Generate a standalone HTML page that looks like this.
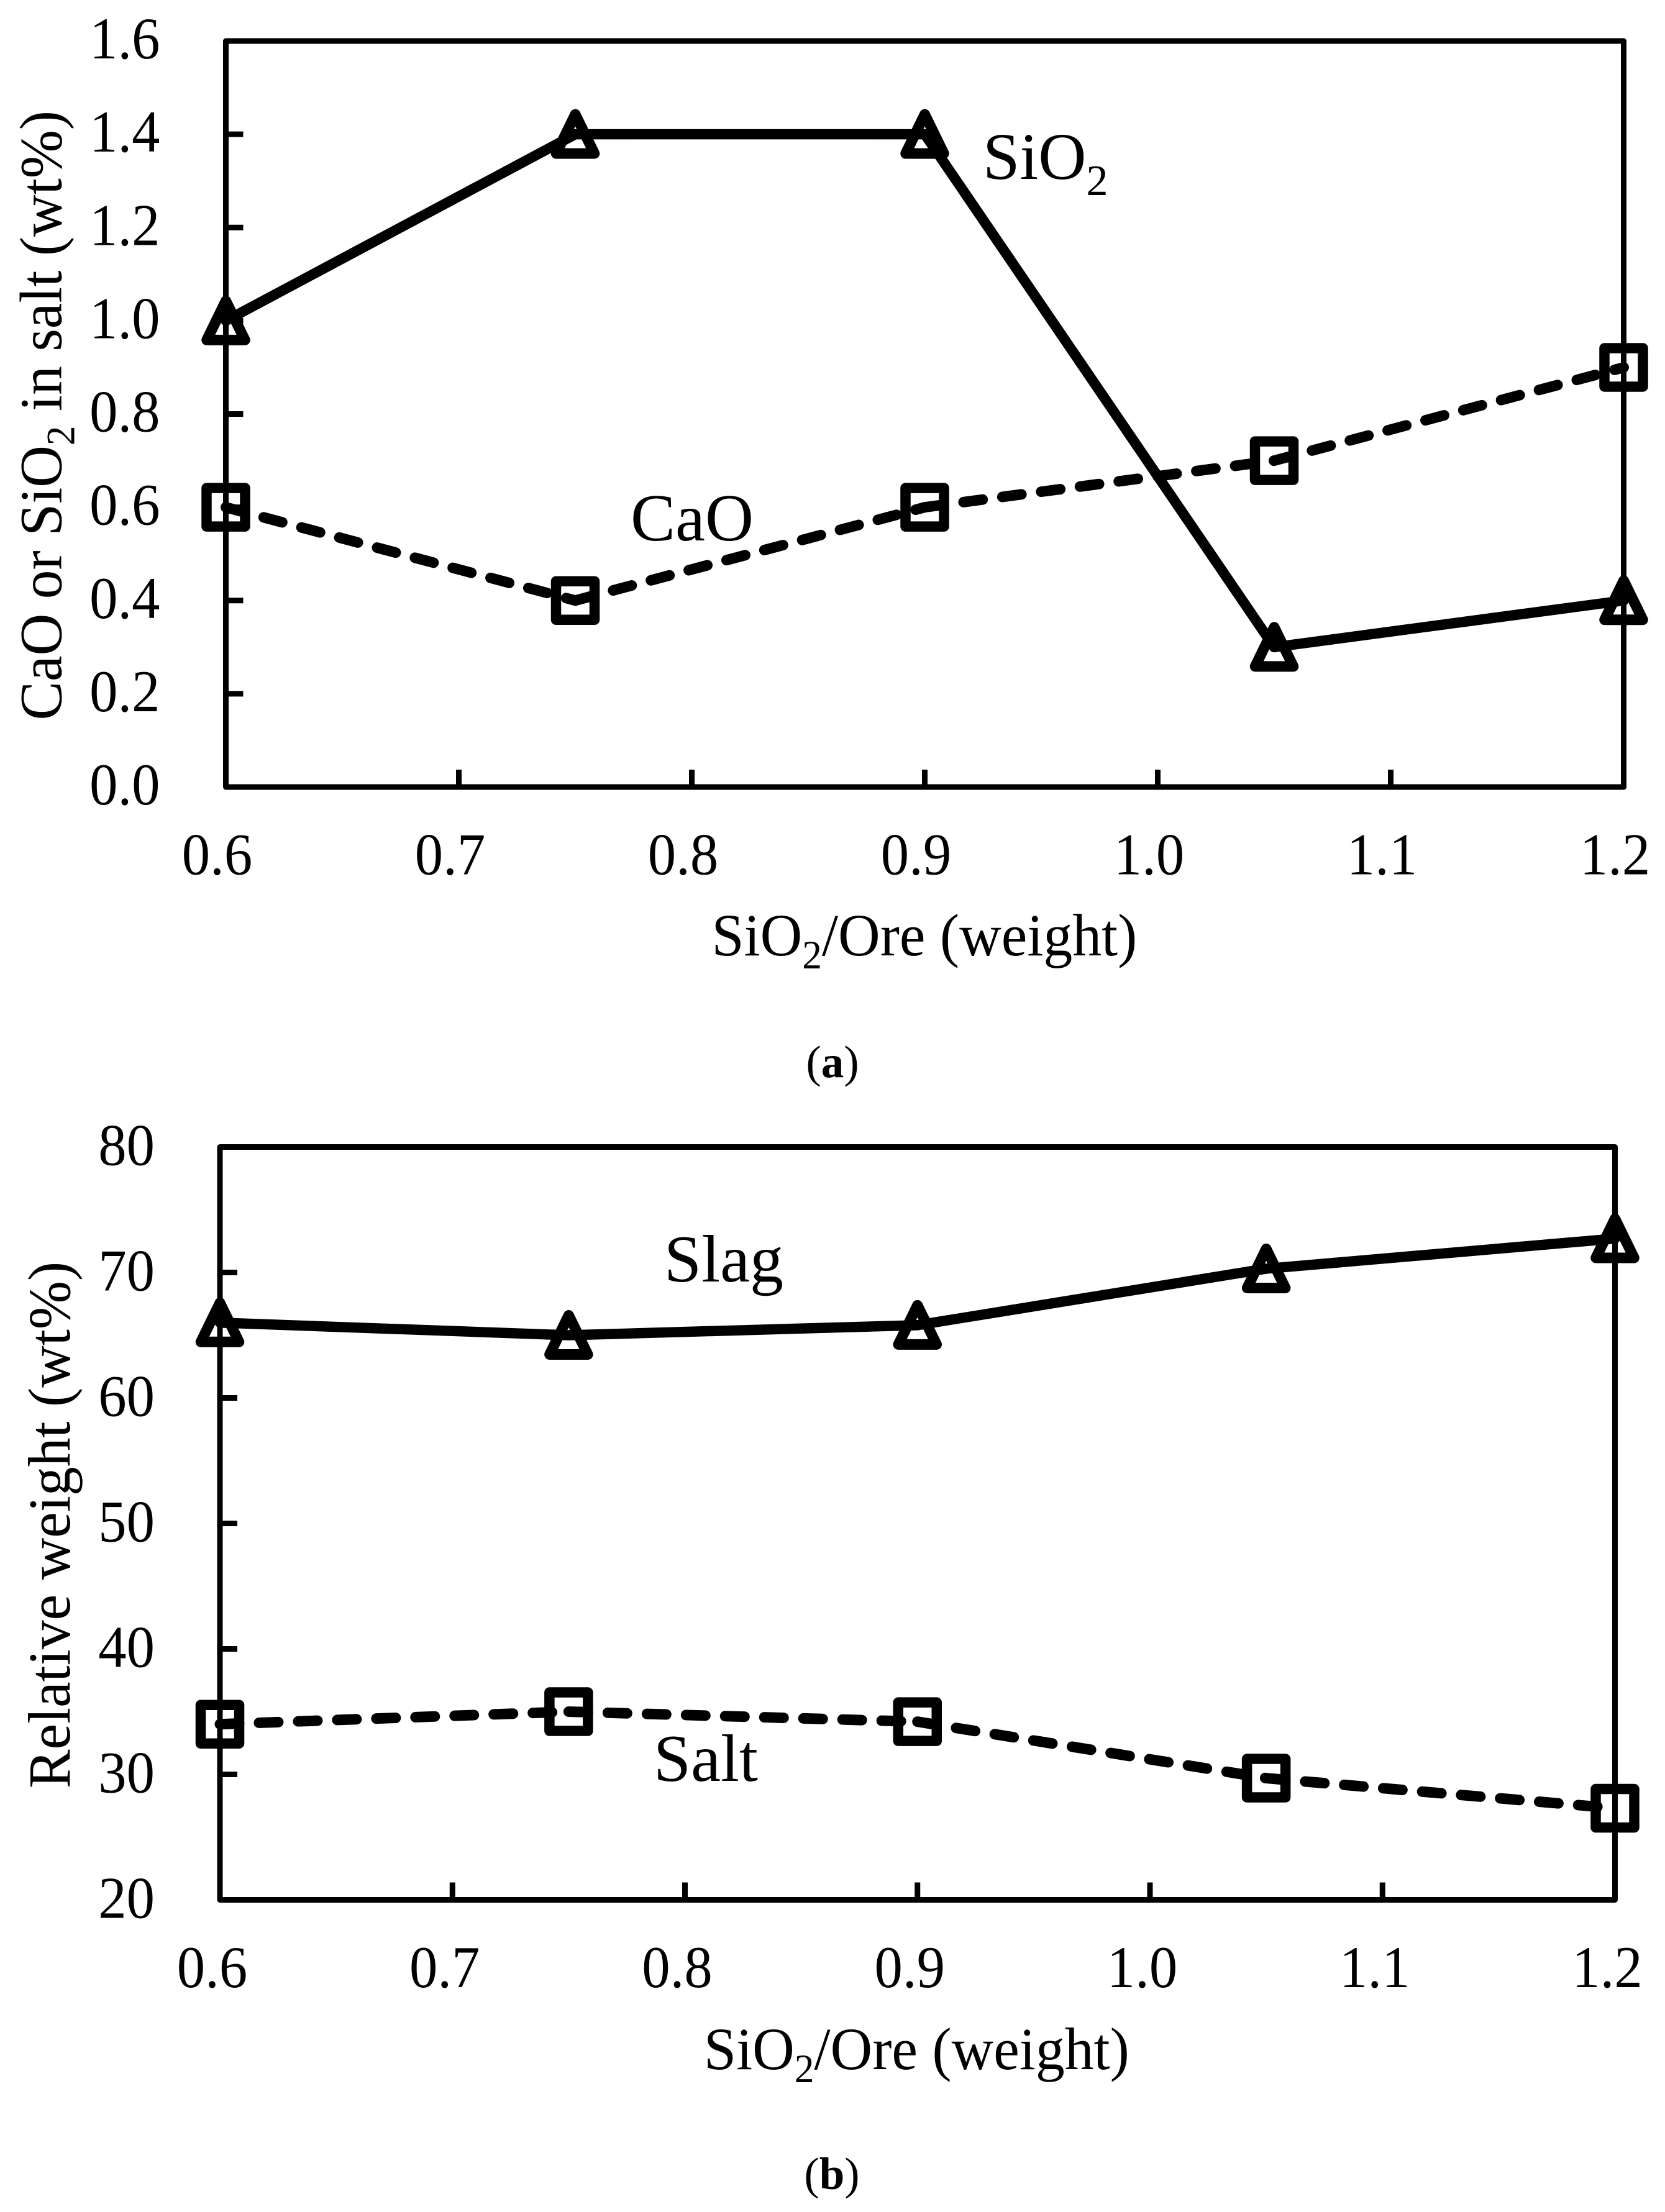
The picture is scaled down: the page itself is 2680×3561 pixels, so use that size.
<!DOCTYPE html>
<html>
<head>
<meta charset="utf-8">
<title>CaO and SiO2 in salt and relative weight vs SiO2/Ore</title>
<style>
html,body{margin:0;padding:0;background:#fff;}
svg{display:block;}
text{font-family:"Liberation Serif",serif;fill:#000;}
</style>
</head>
<body>
<svg id="figure" xmlns="http://www.w3.org/2000/svg" width="2680" height="3561" viewBox="0 0 2680 3561">
  <rect width="2680" height="3561" fill="#fff"/>
  <g id="panel-a"></g>
  <g id="panel-b"></g>

  <text transform="translate(98.5,1159.5) rotate(-90) scale(.976,1)" font-size="96">CaO or SiO<tspan font-size="65" dy="21">2</tspan><tspan dy="-21"> in salt (wt%)</tspan></text>
  <text transform="translate(1145.5,1538) scale(.976,1)" font-size="96">SiO<tspan font-size="65" dy="21">2</tspan><tspan dy="-21">/Ore (weight)</tspan></text>
  <text x="1582" y="288" font-size="107">SiO<tspan font-size="70" dy="26">2</tspan></text>
  <text x="1015" y="870" font-size="108">CaO</text>
  <text x="1340" y="1734" font-size="73" text-anchor="middle">(<tspan font-weight="bold">a</tspan>)</text>

  <text transform="translate(112,2879) rotate(-90) scale(.976,1)" font-size="96">Relative weight (wt%)</text>
  <text transform="translate(1133,3331) scale(.976,1)" font-size="96">SiO<tspan font-size="65" dy="21">2</tspan><tspan dy="-21">/Ore (weight)</tspan></text>
  <text x="1069" y="2063" font-size="108">Slag</text>
  <text x="1052" y="2867" font-size="108">Salt</text>
  <text x="1339" y="3524" font-size="73" text-anchor="middle">(<tspan font-weight="bold">b</tspan>)</text>
</svg>
<script>
const xValues = [0.6, 0.75, 0.9, 1.05, 1.2];
const sio2Values = [1.0, 1.4, 1.4, 0.3, 0.4];
const caoValues = [0.6, 0.4, 0.6, 0.7, 0.9];
const slagValues = [66, 65, 65.8, 70.3, 72.7];
const saltValues = [34, 35, 34.2, 29.7, 27.3];
const xTickValues = [0.6, 0.7, 0.8, 0.9, 1.0, 1.1, 1.2];
const yTickValuesA = [0.0, 0.2, 0.4, 0.6, 0.8, 1.0, 1.2, 1.4, 1.6];
const yTickValuesB = [20, 30, 40, 50, 60, 70, 80];

const NS = 'http://www.w3.org/2000/svg';

function shape(parent, tag, attrs) {
  const el = document.createElementNS(NS, tag);
  for (const key in attrs) el.setAttribute(key, attrs[key]);
  parent.appendChild(el);
  return el;
}

function drawAxes(parent, prefix, box, xs, ys, yTicks, yDigits, opts) {
  const frame = shape(parent, 'rect', {x: box.left, y: box.top, width: box.right - box.left, height: box.bottom - box.top, fill: 'none', stroke: '#000', 'stroke-width': 9, 'stroke-linejoin': 'round'});
  
  
  xTickValues.forEach(function (v) {
    const tick = shape(parent, 'line', {x1: xs(v), x2: xs(v), y1: box.bottom, y2: box.bottom - 28, stroke: '#000', 'stroke-width': 9});
    
    
    const lx = xs(v) + opts.xLabelShift;
    const ly = box.bottom + 140.5;
    const label = shape(parent, 'text', {transform: 'translate(' + lx + ',' + ly + ') scale(.955,1)', 'font-size': 95, 'text-anchor': 'middle'});
    label.textContent = v.toFixed(1);
    
    
  });
  yTicks.forEach(function (v) {
    const tick = shape(parent, 'line', {x1: box.left, x2: box.left + 28, y1: ys(v), y2: ys(v), stroke: '#000', 'stroke-width': 9});
    
    
    const lx = box.left - opts.yLabelGap;
    const ly = ys(v) + opts.yLabelDrop;
    const label = shape(parent, 'text', {transform: 'translate(' + lx + ',' + ly + ') scale(.955,1)', 'font-size': 95, 'text-anchor': 'end'});
    label.textContent = v.toFixed(yDigits);
    
    
  });
}

function drawSeries(parent, name, values, xs, ys, dashed) {
  for (let i = 0; i < values.length - 1; i++) {
    const seg = shape(parent, 'line', {
      x1: xs(xValues[i]), y1: ys(values[i]), x2: xs(xValues[i + 1]), y2: ys(values[i + 1]),
      stroke: '#000', 'stroke-width': dashed ? 17 : 16.5,
      'stroke-linecap': 'round', 'stroke-dasharray': dashed ? '31 32' : 'none'
    });
    
    
  }
  values.forEach(function (v, i) {
    const cx = xs(xValues[i]);
    const cy = ys(v);
    let marker;
    if (dashed) {
      marker = shape(parent, 'rect', {x: cx - 31, y: cy - 31, width: 62, height: 62, fill: 'none', stroke: '#000', 'stroke-width': 16.5, 'stroke-linejoin': 'round'});
    } else {
      marker = shape(parent, 'path', {d: 'M' + cx + ' ' + (cy - 32) + 'L' + (cx + 30.75) + ' ' + (cy + 31) + 'L' + (cx - 30.75) + ' ' + (cy + 31) + 'Z', fill: 'none', stroke: '#000', 'stroke-width': 17, 'stroke-linejoin': 'round'});
    }
    
    
  });
}

const boxA = {left: 363.5, right: 2613.5, top: 66, bottom: 1267};
const boxB = {left: 354, right: 2599.5, top: 1846.5, bottom: 3058.5};
const xA = function (v) { return boxA.left + (v - 0.6) / 0.6 * (boxA.right - boxA.left); };
const yA = function (v) { return boxA.bottom - v / 1.6 * (boxA.bottom - boxA.top); };
const xB = function (v) { return boxB.left + (v - 0.6) / 0.6 * (boxB.right - boxB.left); };
const yB = function (v) { return boxB.bottom - (v - 20) / 60 * (boxB.bottom - boxB.top); };

const panelA = document.getElementById('panel-a');
const panelB = document.getElementById('panel-b');
drawAxes(panelA, 'panel-a', boxA, xA, yA, yTickValuesA, 1, {xLabelShift: -14, yLabelGap: 106, yLabelDrop: 28});
drawSeries(panelA, 'sio2', sio2Values, xA, yA, false);
drawSeries(panelA, 'cao', caoValues, xA, yA, true);
drawAxes(panelB, 'panel-b', boxB, xB, yB, yTickValuesB, 0, {xLabelShift: -12.5, yLabelGap: 105, yLabelDrop: 29});
drawSeries(panelB, 'slag', slagValues, xB, yB, false);
drawSeries(panelB, 'salt', saltValues, xB, yB, true);
</script>
</body>
</html>
